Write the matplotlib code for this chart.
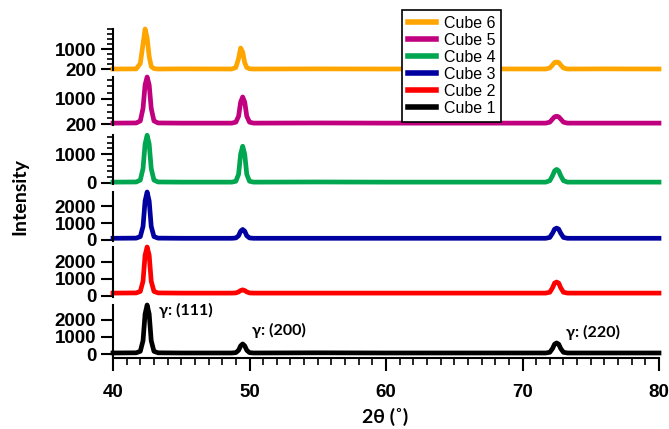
import matplotlib
matplotlib.use("Agg")
import matplotlib.pyplot as plt
from matplotlib.ticker import FixedLocator, MultipleLocator

# 2theta grid (denser around the three peaks)
two_theta = [40, 41.7, 42.0, 42.2, 42.35, 42.5, 42.65, 42.8, 43.0, 43.3, 45,
             48.7, 49.0, 49.2, 49.35, 49.5, 49.65, 49.8, 50.0, 50.3, 55, 60, 65,
             71.7, 72.0, 72.2, 72.35, 72.5, 72.65, 72.8, 73.0, 73.3, 76, 80]

cube6 = [200, 205, 420, 1200, 1800, 1450, 700, 300, 215, 200, 205,
         200, 260, 620, 1040, 880, 450, 260, 210, 200, 205, 200, 205,
         200, 240, 360, 460, 480, 460, 360, 240, 200, 205, 200]
cube5 = [230, 235, 300, 700, 1450, 1700, 1450, 700, 300, 235, 230,
         230, 260, 450, 900, 1064, 900, 450, 260, 230, 235, 230, 230,
         230, 260, 360, 430, 450, 430, 360, 260, 230, 230, 230]
cube4 = [30, 35, 100, 500, 1350, 1650, 1350, 500, 100, 35, 30,
         30, 60, 300, 1000, 1270, 1000, 300, 60, 30, 35, 30, 30,
         30, 80, 250, 420, 470, 420, 250, 80, 30, 30, 30]
cube3 = [100, 110, 200, 800, 2300, 2830, 2300, 800, 200, 110, 100,
         100, 120, 250, 520, 620, 520, 250, 120, 100, 100, 100, 100,
         100, 150, 400, 640, 700, 640, 400, 150, 100, 100, 100]
cube2 = [170, 180, 270, 870, 2400, 2880, 2400, 870, 270, 180, 170,
         170, 180, 240, 320, 360, 320, 240, 180, 170, 170, 170, 170,
         170, 220, 480, 760, 820, 760, 480, 220, 170, 170, 170]
cube1 = [60, 70, 160, 780, 2350, 2880, 2350, 780, 160, 70, 60,
         60, 80, 220, 480, 590, 480, 220, 80, 60, 70, 60, 60,
         60, 100, 320, 580, 650, 580, 320, 100, 60, 60, 60]

labels = ["Cube 6", "Cube 5", "Cube 4", "Cube 3", "Cube 2", "Cube 1"]
series = [cube6, cube5, cube4, cube3, cube2, cube1]
colors = ["#FFA500", "#C0007F", "#00A650", "#0000A0", "#FF0000", "#000000"]
ylims = [(160, 1800), (170, 1700), (-35, 1660), (-60, 2830), (-60, 2880), (-235, 2880)]
yticks = [[200, 1000], [200, 1000], [0, 1000], [0, 1000, 2000], [0, 1000, 2000], [0, 1000, 2000]]
peak_labels = ["γ: (111)", "γ: (200)", "γ: (220)"]
peak_pos = [(43.4, 2540), (50.2, 1360), (73.2, 1240)]

# panel extents in pixels (top, bottom) from the picture
panels = [(29, 70), (77, 125), (135, 184), (192, 241), (247, 297), (305, 358)]

W, H = 669, 429
fig = plt.figure(figsize=(W / 100, H / 100), dpi=100)
tick_font = dict(family="Liberation Sans", weight="bold", size=13.5)
label_fam = ["Lato", "DejaVu Sans"]

handles = []
for i in range(6):
    top, bot = panels[i]
    ax = fig.add_axes([113 / W, 1 - bot / H, (659 - 113) / W, (bot - top) / H])
    (ln,) = ax.plot(two_theta, series[i], color=colors[i], lw=3.4,
                    solid_joinstyle="round", clip_on=False, label=labels[i])
    handles.append(ln)
    ax.set_xlim(40, 80)
    ax.set_ylim(*ylims[i])
    for s in ["top", "right"]:
        ax.spines[s].set_visible(False)
    ax.spines["left"].set_linewidth(1.5)
    ax.yaxis.set_major_locator(FixedLocator(yticks[i]))
    if i < 3:
        ax.yaxis.set_minor_locator(MultipleLocator(200))
    ax.tick_params(axis="y", which="major", length=9, width=1.5, pad=3)
    ax.tick_params(axis="y", which="minor", length=4, width=1.2)
    for t in ax.get_yticklabels():
        t.set(**tick_font)
    if i < 5:
        ax.spines["bottom"].set_visible(False)
        ax.set_xticks([])
    else:
        ax.spines["bottom"].set_linewidth(1.5)
        ax.set_xticks([40, 50, 60, 70, 80])
        ax.xaxis.set_minor_locator(MultipleLocator(1))
        ax.tick_params(axis="x", which="major", length=9, width=1.5, pad=10)
        ax.tick_params(axis="x", which="minor", length=5, width=1.2)
        for t in ax.get_xticklabels():
            t.set(**tick_font)
        for txt, (px, py) in zip(peak_labels, peak_pos):
            ax.text(px, py, txt, family=label_fam, weight="bold", fontsize=11.5,
                    va="center", ha="left")

fig.text(385 / W, 1 - 417 / H, "2θ (˚)", family=label_fam, weight="bold",
         fontsize=14, ha="center", va="center")
fig.text(20 / W, 1 - 197 / H, "Intensity", family=label_fam, weight="bold",
         fontsize=14, ha="center", va="center", rotation=90)

leg = fig.legend(handles=handles, loc="upper left", bbox_to_anchor=(402 / W, 1 - 10 / H),
                 bbox_transform=fig.transFigure, frameon=True, fancybox=False,
                 framealpha=1, edgecolor="black", prop=dict(family="Liberation Sans", size=11.5),
                 handlelength=1.8, labelspacing=0.13, borderpad=0.35, handletextpad=0.45,
                 borderaxespad=0)
leg.get_frame().set_linewidth(1.2)
for h in leg.get_lines():
    h.set_linewidth(4)

fig.savefig("out.png", dpi=100)
